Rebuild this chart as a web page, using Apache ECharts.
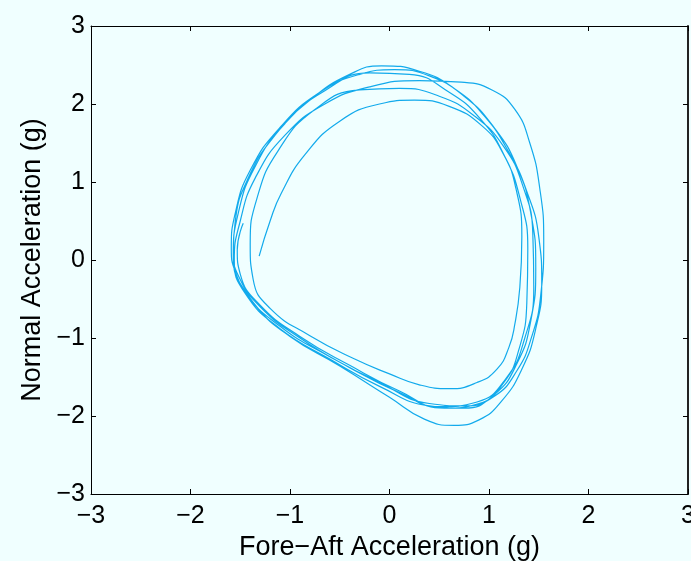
<!DOCTYPE html>
<html>
<head>
<meta charset="utf-8">
<script src="https://cdn.jsdelivr.net/npm/echarts@6/dist/echarts.min.js"></script>
<style>
  html, body { margin: 0; padding: 0; background: #f0ffff; }
  #chart { width: 691px; height: 561px; }
</style>
</head>
<body>
<div id="chart"></div>
<script>
// Fore-aft vs normal acceleration trace (g), one lap after another.
const lap1 = [[-1.31, 0.05], [-1.2, 0.5], [-1.09, 0.85], [-0.85, 1.35], [-0.5, 1.78], [-0.1, 2.0], [0.25, 2.05], [0.6, 1.97], [0.93, 1.72], [1.14, 1.37], [1.27, 0.92], [1.33, 0.3], [1.31, -0.35], [1.26, -0.82], [1.2, -1.12], [1.08, -1.4], [0.88, -1.57], [0.6, -1.65], [0.3, -1.6], [0.0, -1.46], [-0.35, -1.27], [-0.8, -0.97], [-1.2, -0.62], [-1.37, -0.25]];
const lap2 = [[-1.4, 0.2], [-1.33, 0.8], [-1.12, 1.4], [-0.75, 1.93], [-0.3, 2.18], [0.1, 2.2], [0.5, 2.1], [0.85, 1.85], [1.15, 1.45], [1.34, 0.95], [1.44, 0.35], [1.45, -0.35], [1.36, -1.0], [1.17, -1.52], [0.88, -1.82], [0.5, -1.88], [0.1, -1.7], [-0.4, -1.38], [-0.9, -1.0], [-1.3, -0.6], [-1.52, -0.2], [-1.57, 0.1]];
const lap3 = [[-1.55, 0.5], [-1.42, 1.05], [-1.15, 1.6], [-0.8, 2.05], [-0.4, 2.38], [-0.08, 2.49], [0.3, 2.42], [0.65, 2.2], [0.95, 1.85], [1.2, 1.38], [1.38, 0.88], [1.5, 0.3], [1.53, -0.3], [1.47, -0.88], [1.33, -1.4], [1.12, -1.82], [0.9, -2.05], [0.65, -2.12], [0.35, -2.04], [0.0, -1.76], [-0.5, -1.36], [-1.0, -0.98], [-1.35, -0.58], [-1.55, -0.15], [-1.59, 0.15]];
const lap4 = [[-1.55, 0.6], [-1.4, 1.15], [-1.1, 1.7], [-0.7, 2.15], [-0.3, 2.38], [0.05, 2.44], [0.4, 2.36], [0.75, 2.1], [1.05, 1.7], [1.28, 1.2], [1.42, 0.6], [1.47, -0.1], [1.42, -0.78], [1.28, -1.33], [1.05, -1.73], [0.75, -1.9], [0.4, -1.87], [-0.1, -1.62], [-0.6, -1.27], [-1.1, -0.88], [-1.45, -0.43], [-1.56, 0.0]];
const lap5 = [[-1.5, 0.5], [-1.35, 1.05], [-1.05, 1.6], [-0.65, 2.0], [-0.2, 2.22], [0.3, 2.3], [0.72, 2.28], [1.03, 2.18], [1.26, 1.93], [1.41, 1.5], [1.51, 0.92], [1.55, 0.25], [1.52, -0.45], [1.43, -0.98], [1.28, -1.42], [1.05, -1.75], [0.75, -1.87], [0.4, -1.84], [-0.1, -1.57], [-0.6, -1.24], [-1.1, -0.85], [-1.45, -0.4], [-1.57, 0.05]];
const lap6 = [[-1.52, 0.6], [-1.35, 1.2], [-1.05, 1.75], [-0.65, 2.17], [-0.2, 2.4], [0.2, 2.38], [0.6, 2.15], [0.92, 1.8], [1.15, 1.35], [1.31, 0.8], [1.39, 0.15], [1.38, -0.55], [1.3, -1.15], [1.15, -1.57], [0.9, -1.84], [0.55, -1.9], [0.1, -1.68], [-0.4, -1.35], [-0.9, -0.98], [-1.3, -0.58], [-1.5, -0.18], [-1.53, 0.13], [-1.47, 0.47]];

const laps = [lap1, lap2, lap3, lap4, lap5, lap6];
const ticks = [-3, -2, -1, 0, 1, 2, 3];
const xTitle = 'Fore\u2212Aft Acceleration (g)';
const yTitle = 'Normal Acceleration (g)';

const trace = [].concat(...laps);
const fmt = v => String(v).replace('-', '\u2212');
const font = 'Liberation Sans, Arial, Helvetica, sans-serif';
const lineStyle = { color: '#000', width: 1 };

const chart = echarts.init(document.getElementById('chart'), null, { renderer: 'canvas' });
chart.setOption({
  backgroundColor: '#f0ffff',
  animation: false,
  grid: { left: 91, right: 3, top: 26, bottom: 67, containLabel: false, outerBoundsMode: 'none' },
  xAxis: [
    {
      type: 'value', min: ticks[0], max: ticks[ticks.length - 1], interval: 1,
      position: 'bottom',
      name: xTitle, nameLocation: 'middle', nameGap: 37,
      nameTextStyle: { fontFamily: font, fontSize: 27, color: '#000' },
      axisLine: { show: true, onZero: false, lineStyle },
      axisTick: { show: true, inside: true, length: 5, lineStyle },
      axisLabel: { fontFamily: font, fontSize: 25, color: '#000', margin: 10, formatter: fmt, showMinLabel: true, showMaxLabel: true, hideOverlap: false },
      splitLine: { show: false }
    },
    {
      type: 'value', min: ticks[0], max: ticks[ticks.length - 1], interval: 1,
      position: 'top',
      axisLine: { show: true, onZero: false, lineStyle },
      axisTick: { show: true, inside: true, length: 5, lineStyle },
      axisLabel: { show: false },
      splitLine: { show: false }
    }
  ],
  yAxis: [
    {
      type: 'value', min: ticks[0], max: ticks[ticks.length - 1], interval: 1,
      position: 'left',
      name: yTitle, nameLocation: 'middle', nameGap: 45,
      nameTextStyle: { fontFamily: font, fontSize: 27, color: '#000' },
      axisLine: { show: true, onZero: false, lineStyle },
      axisTick: { show: true, inside: true, length: 5, lineStyle },
      axisLabel: { fontFamily: font, fontSize: 25, color: '#000', margin: 6, formatter: fmt, showMinLabel: true, showMaxLabel: true },
      splitLine: { show: false }
    },
    {
      type: 'value', min: ticks[0], max: ticks[ticks.length - 1], interval: 1,
      position: 'right',
      axisLine: { show: true, onZero: false, lineStyle: { color: '#222', width: 2 } },
      axisTick: { show: true, inside: true, length: 5, lineStyle },
      axisLabel: { show: false },
      splitLine: { show: false }
    }
  ],
  series: [{
    type: 'line',
    xAxisIndex: 0, yAxisIndex: 0,
    data: trace,
    smooth: 0.5,
    showSymbol: false,
    clip: false,
    lineStyle: { color: '#12aaec', width: 1.2 }
  }]
});
</script>
</body>
</html>
